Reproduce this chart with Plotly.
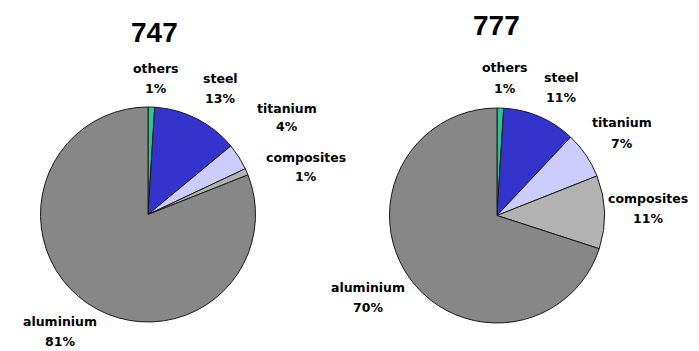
import plotly.graph_objects as go

labels = ["others", "steel", "titanium", "composites", "aluminium"]
values_747 = [1, 13, 4, 1, 81]
values_777 = [1, 11, 7, 11, 70]
titles = ["747", "777"]
colors = ["#2DC495", "#3434CC", "#CCCCFF", "#B2B2B2", "#878787"]

W, H = 699, 351

def px(x):
    return x / W

def py(y):
    return 1 - y / H

fig = go.Figure()
common = dict(labels=labels, sort=False, direction="clockwise", rotation=0,
              textinfo="none", hoverinfo="label+percent",
              marker=dict(colors=colors, line=dict(color="#1a1a1a", width=1)),
              showlegend=False)
fig.add_trace(go.Pie(values=values_747,
                     domain=dict(x=[px(40.5), px(255.5)], y=[py(322), py(107)]), **common))
fig.add_trace(go.Pie(values=values_777,
                     domain=dict(x=[px(389.5), px(604.5)], y=[py(323), py(108)]), **common))

# (x center, y of name line, y of percent line)
label_pos = {
    "747": [(156, 69, 88), (220, 79, 98), (287, 108, 126), (306, 157, 176), (60, 321, 341)],
    "777": [(505, 67, 88), (561, 77, 97), (622, 122, 143), (648, 198, 218), (368, 287, 307)],
}
title_pos = {"747": (154, 32), "777": (496, 25)}
data = {"747": values_747, "777": values_777}

font = dict(family="DejaVu Sans, Verdana, sans-serif", size=12.5, color="#000000")
for t in titles:
    tx, ty = title_pos[t]
    fig.add_annotation(x=px(tx), y=py(ty), xref="paper", yref="paper", text="<b>%s</b>" % t,
                       showarrow=False, xanchor="center", yanchor="middle",
                       font=dict(family="Liberation Sans, Arial, sans-serif", size=28, color="#000"))
    for (lx, ly1, ly2), lab, v in zip(label_pos[t], labels, data[t]):
        fig.add_annotation(x=px(lx), y=py(ly1), xref="paper", yref="paper",
                           text="<b>%s</b>" % lab,
                           showarrow=False, xanchor="center", yanchor="middle", font=font)
        fig.add_annotation(x=px(lx), y=py(ly2), xref="paper", yref="paper",
                           text="<b>%d%%</b>" % v,
                           showarrow=False, xanchor="center", yanchor="middle", font=font)

fig.update_layout(width=W, height=H, margin=dict(l=0, r=0, t=0, b=0),
                  paper_bgcolor="white", plot_bgcolor="white")
fig.write_html("out.html")
